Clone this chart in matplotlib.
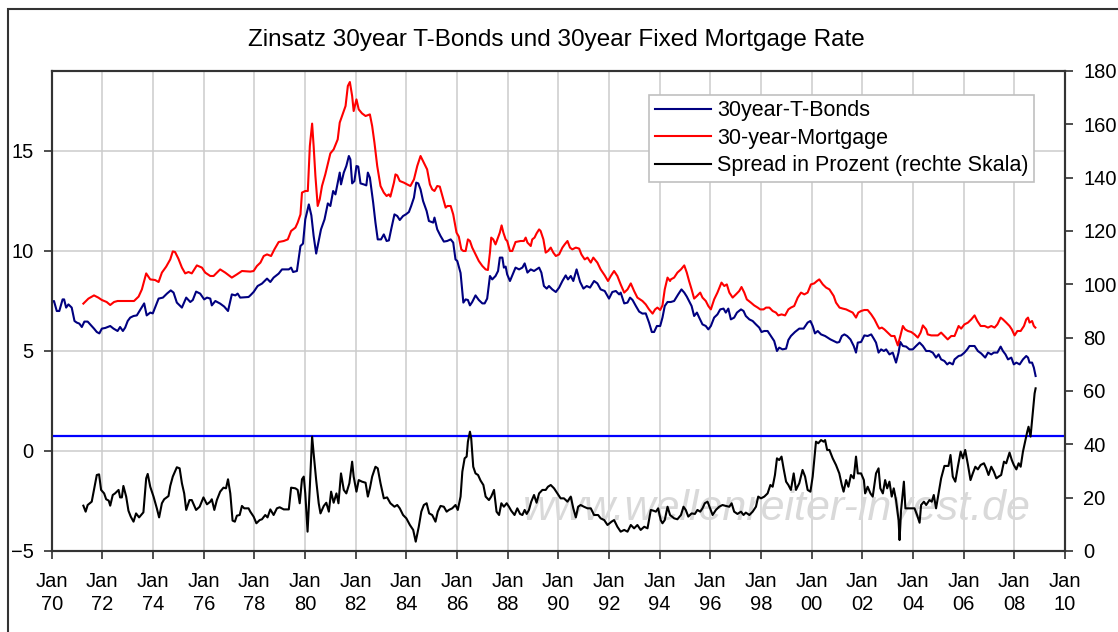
import matplotlib
matplotlib.use('Agg')
import matplotlib.pyplot as plt
from matplotlib.patches import Rectangle
from matplotlib.lines import Line2D

plt.rcParams['font.family'] = ['Liberation Sans', 'DejaVu Sans']

TickSize = 14.5
LegendSize = 15.5
TitleSize = 17.5
line_w = 1.5

title = 'Zinsatz 30year T-Bonds und 30year Fixed Mortgage Rate'
labels = ['30year-T-Bonds', '30-year-Mortgage', 'Spread in Prozent (rechte Skala)']
watermark = 'www.wellenreiter-invest.de'

# 30year T-Bonds (left scale), decimal years
tb_year = [1970.0, 1970.09, 1970.2, 1970.3, 1970.43, 1970.49, 1970.57, 1970.66, 1970.79, 1970.9,
           1970.99, 1971.09, 1971.19, 1971.29, 1971.42, 1971.58, 1971.67, 1971.78, 1971.88, 1971.98,
           1972.11, 1972.31, 1972.44, 1972.6, 1972.7, 1972.81, 1972.9, 1973.0, 1973.1, 1973.23,
           1973.36, 1973.49, 1973.65, 1973.75, 1973.89, 1973.99, 1974.08, 1974.22, 1974.39, 1974.55,
           1974.7, 1974.81, 1974.94, 1975.14, 1975.31, 1975.47, 1975.57, 1975.7, 1975.86, 1976.02,
           1976.13, 1976.26, 1976.32, 1976.46, 1976.65, 1976.81, 1976.96, 1977.11, 1977.25, 1977.34,
           1977.44, 1977.77, 1977.84, 1977.97, 1978.13, 1978.3, 1978.5, 1978.63, 1978.76, 1978.96,
           1979.09, 1979.36, 1979.45, 1979.53, 1979.68, 1979.82, 1979.92, 1980.01, 1980.15, 1980.25,
           1980.34, 1980.44, 1980.54, 1980.63, 1980.77, 1980.9, 1981.0, 1981.11, 1981.2, 1981.29,
           1981.37, 1981.42, 1981.53, 1981.63, 1981.73, 1981.79, 1981.86, 1981.95, 1982.03, 1982.1,
           1982.19, 1982.32, 1982.42, 1982.48, 1982.56, 1982.69, 1982.78, 1982.87, 1983.0, 1983.11,
           1983.22, 1983.31, 1983.4, 1983.53, 1983.64, 1983.74, 1983.87, 1983.98, 1984.1, 1984.19,
           1984.3, 1984.39, 1984.47, 1984.56, 1984.66, 1984.8, 1984.89, 1985.06, 1985.11, 1985.22,
           1985.35, 1985.48, 1985.61, 1985.75, 1985.85, 1985.94, 1986.01, 1986.14, 1986.25, 1986.34,
           1986.43, 1986.51, 1986.6, 1986.73, 1986.86, 1987.0, 1987.09, 1987.19, 1987.3, 1987.39,
           1987.52, 1987.62, 1987.69, 1987.79, 1987.85, 1987.92, 1987.98, 1988.09, 1988.18, 1988.31,
           1988.45, 1988.58, 1988.67, 1988.78, 1988.91, 1989.04, 1989.24, 1989.33, 1989.43, 1989.54,
           1989.63, 1989.76, 1989.9, 1990.03, 1990.16, 1990.29, 1990.38, 1990.49, 1990.59, 1990.72,
           1990.86, 1990.99, 1991.12, 1991.25, 1991.41, 1991.54, 1991.67, 1991.83, 1992.0, 1992.13,
           1992.27, 1992.4, 1992.46, 1992.6, 1992.73, 1992.83, 1992.93, 1993.06, 1993.19, 1993.32,
           1993.45, 1993.58, 1993.69, 1993.78, 1993.89, 1994.02, 1994.11, 1994.2, 1994.31, 1994.44,
           1994.57, 1994.73, 1994.86, 1994.97, 1995.07, 1995.16, 1995.26, 1995.36, 1995.47, 1995.56,
           1995.69, 1995.82, 1995.92, 1996.02, 1996.15, 1996.28, 1996.39, 1996.52, 1996.61, 1996.71,
           1996.81, 1996.94, 1997.05, 1997.21, 1997.31, 1997.4, 1997.54, 1997.67, 1997.8, 1997.93,
           1998.02, 1998.13, 1998.26, 1998.39, 1998.52, 1998.63, 1998.72, 1998.85, 1998.99, 1999.08,
           1999.18, 1999.34, 1999.51, 1999.68, 1999.84, 1999.95, 2000.04, 2000.13, 2000.24, 2000.37,
           2000.53, 2000.63, 2000.74, 2000.87, 2001.0, 2001.09, 2001.19, 2001.29, 2001.4, 2001.53,
           2001.66, 2001.75, 2001.82, 2001.95, 2002.08, 2002.21, 2002.35, 2002.45, 2002.54, 2002.64,
           2002.74, 2002.85, 2002.94, 2003.07, 2003.2, 2003.33, 2003.43, 2003.5, 2003.6, 2003.73,
           2003.86, 2003.99, 2004.12, 2004.26, 2004.39, 2004.52, 2004.65, 2004.78, 2004.91, 2005.01,
           2005.11, 2005.24, 2005.35, 2005.44, 2005.57, 2005.64, 2005.8, 2005.9, 2006.03, 2006.14,
           2006.23, 2006.43, 2006.56, 2006.69, 2006.85, 2006.96, 2007.09, 2007.19, 2007.33, 2007.46,
           2007.55, 2007.65, 2007.75, 2007.88, 2007.98, 2008.08, 2008.21, 2008.34, 2008.47, 2008.54,
           2008.6, 2008.7, 2008.77, 2008.84]
tb_val = [7.45, 7.5, 7.0, 7.0, 7.58, 7.58, 7.17, 7.33, 7.17, 6.5,
          6.42, 6.37, 6.2, 6.47, 6.47, 6.25, 6.12, 5.95, 5.88, 6.12,
          6.15, 6.25, 6.12, 6.0, 6.2, 6.0, 6.17, 6.5, 6.67, 6.75,
          6.78, 7.05, 7.38, 6.78, 6.92, 6.88, 7.17, 7.62, 7.67, 7.87,
          8.03, 7.92, 7.42, 7.17, 7.67, 7.45, 7.55, 7.97, 7.87, 7.58,
          7.67, 7.62, 7.28, 7.5, 7.37, 7.22, 7.0, 7.83, 7.78, 7.87,
          7.67, 7.7, 7.78, 7.95, 8.25, 8.37, 8.62, 8.45, 8.67, 8.87,
          9.08, 9.08, 9.17, 8.95, 9.0, 10.25, 10.37, 11.58, 12.33, 11.78,
          10.75, 9.87, 10.5, 11.08, 11.58, 12.38, 12.25, 13.0, 12.83, 13.42,
          13.92, 13.33, 13.92, 14.25, 14.75, 14.58, 13.38, 13.5, 14.25, 14.22,
          13.38, 13.33, 13.28, 13.92, 13.67, 12.42, 11.42, 10.58, 10.58, 10.83,
          10.5, 10.53, 11.08, 11.83, 11.75, 11.55, 11.75, 11.83, 11.95, 12.25,
          12.67, 13.42, 13.38, 13.08, 12.5, 12.0, 11.5, 11.42, 11.67, 11.08,
          10.75, 10.47, 10.5, 10.58, 10.42, 9.58, 9.5, 8.9, 7.42, 7.58,
          7.55, 7.28, 7.45, 7.78, 7.55, 7.38, 7.38, 7.62, 8.75, 8.58,
          8.75, 9.0, 9.67, 9.67, 9.17, 9.22, 8.83, 8.5, 8.78, 9.17,
          9.08, 9.17, 9.38, 8.92, 9.08, 9.0, 9.17, 8.92, 8.25, 8.12,
          8.25, 8.08, 7.95, 8.17, 8.5, 8.78, 8.58, 8.75, 8.5, 9.08,
          8.45, 8.12, 8.25, 8.17, 8.5, 8.38, 8.08, 8.0, 7.62, 7.95,
          8.0, 7.83, 7.92, 7.38, 7.42, 7.67, 7.55, 7.25, 6.97, 6.87,
          6.88, 6.42, 5.95, 5.95, 6.25, 6.25, 6.67, 7.25, 7.45, 7.45,
          7.5, 7.83, 8.08, 7.92, 7.72, 7.5, 7.25, 6.75, 6.92, 6.67,
          6.33, 6.25, 6.08, 6.25, 6.67, 6.83, 7.08, 7.12, 6.92, 7.12,
          6.58, 6.67, 6.92, 7.08, 7.0, 6.75, 6.58, 6.5, 6.33, 6.17,
          5.95, 6.0, 6.0, 5.75, 5.5, 5.0, 5.17, 5.08, 5.12, 5.55,
          5.75, 5.95, 6.12, 6.12, 6.42, 6.5, 6.25, 5.88, 6.0, 5.83,
          5.75, 5.67, 5.58, 5.5, 5.42, 5.45, 5.75, 5.83, 5.75, 5.58,
          5.25, 4.92, 5.42, 5.45, 5.78, 5.75, 5.83, 5.62, 5.42, 4.92,
          5.08, 5.0, 5.08, 4.83, 4.92, 4.42, 4.92, 5.45, 5.25, 5.22,
          5.08, 5.08, 5.25, 5.42, 5.25, 5.0, 5.0, 4.92, 4.67, 4.83,
          4.58, 4.5, 4.33, 4.42, 4.33, 4.58, 4.75, 4.78, 4.92, 5.08,
          5.25, 5.25, 5.0, 4.88, 4.67, 4.92, 4.83, 4.92, 4.92, 5.22,
          5.0, 4.83, 4.58, 4.67, 4.33, 4.42, 4.33, 4.58, 4.75, 4.67,
          4.42, 4.42, 4.17, 3.75]

# 30-year Mortgage (left scale)
mg_year = [1971.25, 1971.45, 1971.67, 1971.84, 1971.98, 1972.17, 1972.31, 1972.46, 1972.6, 1972.96,
           1973.25, 1973.43, 1973.56, 1973.73, 1973.89, 1974.08, 1974.22, 1974.35, 1974.52, 1974.68,
           1974.78, 1974.87, 1975.0, 1975.14, 1975.27, 1975.4, 1975.53, 1975.73, 1975.93, 1976.06,
           1976.26, 1976.39, 1976.65, 1976.85, 1977.11, 1977.31, 1977.51, 1977.84, 1977.97, 1978.1,
           1978.24, 1978.37, 1978.5, 1978.66, 1978.79, 1978.96, 1979.16, 1979.32, 1979.45, 1979.62,
           1979.71, 1979.82, 1979.88, 1980.01, 1980.11, 1980.19, 1980.28, 1980.34, 1980.41, 1980.5,
           1980.58, 1980.67, 1980.8, 1980.94, 1981.0, 1981.13, 1981.29, 1981.37, 1981.5, 1981.6,
           1981.69, 1981.77, 1981.86, 1981.92, 1982.03, 1982.12, 1982.25, 1982.39, 1982.56, 1982.65,
           1982.74, 1982.85, 1982.98, 1983.11, 1983.22, 1983.31, 1983.37, 1983.51, 1983.57, 1983.64,
           1983.74, 1983.9, 1984.03, 1984.16, 1984.3, 1984.43, 1984.56, 1984.69, 1984.82, 1984.93,
           1985.02, 1985.11, 1985.22, 1985.32, 1985.46, 1985.55, 1985.62, 1985.75, 1985.85, 1985.98,
           1986.07, 1986.17, 1986.25, 1986.34, 1986.43, 1986.51, 1986.6, 1986.73, 1986.86, 1987.0,
           1987.13, 1987.22, 1987.3, 1987.35, 1987.43, 1987.52, 1987.62, 1987.69, 1987.76, 1987.83,
           1987.92, 1987.98, 1988.09, 1988.18, 1988.31, 1988.51, 1988.64, 1988.71, 1988.78, 1988.91,
           1988.97, 1989.06, 1989.14, 1989.24, 1989.3, 1989.41, 1989.5, 1989.59, 1989.7, 1989.8,
           1989.9, 1990.03, 1990.16, 1990.25, 1990.36, 1990.46, 1990.55, 1990.69, 1990.82, 1990.91,
           1991.04, 1991.15, 1991.28, 1991.38, 1991.54, 1991.67, 1991.83, 1991.96, 1992.07, 1992.2,
           1992.33, 1992.46, 1992.6, 1992.73, 1992.86, 1992.99, 1993.12, 1993.32, 1993.45, 1993.58,
           1993.72, 1993.82, 1993.91, 1994.02, 1994.11, 1994.2, 1994.31, 1994.41, 1994.44, 1994.57,
           1994.7, 1994.84, 1994.97, 1995.07, 1995.16, 1995.26, 1995.36, 1995.47, 1995.6, 1995.69,
           1995.82, 1995.92, 1996.02, 1996.15, 1996.28, 1996.44, 1996.55, 1996.65, 1996.75, 1996.88,
           1997.01, 1997.14, 1997.23, 1997.34, 1997.44, 1997.6, 1997.73, 1997.87, 1997.97, 1998.1,
           1998.2, 1998.33, 1998.46, 1998.59, 1998.68, 1998.81, 1998.95, 1999.08, 1999.18, 1999.31,
           1999.45, 1999.58, 1999.71, 1999.84, 1999.97, 2000.1, 2000.21, 2000.3, 2000.44, 2000.57,
           2000.7, 2000.87, 2000.96, 2001.1, 2001.23, 2001.36, 2001.49, 2001.62, 2001.75, 2001.84,
           2001.95, 2002.08, 2002.21, 2002.35, 2002.48, 2002.61, 2002.67, 2002.77, 2002.87, 2003.0,
           2003.14, 2003.27, 2003.4, 2003.5, 2003.6, 2003.69, 2003.8, 2003.93, 2004.06, 2004.19,
           2004.3, 2004.39, 2004.52, 2004.58, 2004.72, 2004.85, 2004.98, 2005.11, 2005.24, 2005.37,
           2005.51, 2005.64, 2005.8, 2005.9, 2006.03, 2006.17, 2006.3, 2006.43, 2006.54, 2006.67,
           2006.83, 2006.96, 2007.09, 2007.22, 2007.33, 2007.46, 2007.55, 2007.68, 2007.81, 2007.9,
           2008.01, 2008.12, 2008.25, 2008.38, 2008.47, 2008.54, 2008.6, 2008.7, 2008.77, 2008.83]
mg_val = [7.37, 7.62, 7.78, 7.67, 7.55, 7.45, 7.3, 7.45, 7.5, 7.5,
          7.5, 7.72, 8.08, 8.88, 8.58, 8.55, 8.45, 8.92, 9.22, 9.58,
          9.98, 9.95, 9.62, 9.17, 8.88, 8.95, 8.88, 9.28, 9.17, 8.92,
          8.75, 8.75, 9.08, 8.92, 8.67, 8.83, 9.0, 8.97, 9.0, 9.25,
          9.42, 9.75, 9.83, 9.75, 10.08, 10.45, 10.5, 10.58, 11.0, 11.17,
          11.42, 11.83, 12.92, 13.0, 13.0, 15.25, 16.37, 15.25, 13.75, 12.25,
          12.58, 13.25, 13.83, 14.58, 14.88, 15.08, 15.58, 16.42, 16.88, 17.25,
          18.25, 18.45, 17.75, 17.0, 17.58, 17.08, 16.88, 16.75, 16.83, 16.25,
          15.42, 14.25, 13.25, 12.92, 12.75, 12.83, 12.72, 13.42, 13.83, 13.78,
          13.5, 13.42, 13.33, 13.25, 13.58, 14.25, 14.75, 14.42, 14.08, 13.33,
          13.08, 13.0, 13.25, 13.22, 12.58, 12.17, 12.25, 12.25, 11.83, 10.92,
          10.72, 10.08, 10.0, 10.0, 10.58, 10.5, 10.17, 9.83, 9.5, 9.25,
          9.08, 9.05, 9.92, 10.67, 10.58, 10.33, 10.67, 10.92, 11.28, 10.92,
          10.58, 10.5, 10.0, 10.0, 10.45, 10.5, 10.5, 10.67, 10.42, 10.25,
          10.58, 10.67, 10.88, 11.08, 11.0, 10.58, 9.92, 10.0, 10.17, 9.92,
          9.75, 9.83, 10.17, 10.33, 10.5, 10.17, 10.08, 10.17, 10.12, 9.83,
          9.58, 9.67, 9.42, 9.67, 9.42, 9.08, 8.78, 8.5, 8.75, 9.0,
          8.75, 8.33, 7.92, 8.08, 8.38, 8.0, 7.67, 7.5, 7.33, 7.08,
          6.87, 7.08, 7.17, 7.05, 7.28, 8.08, 8.67, 8.5, 8.58, 8.67,
          8.92, 9.08, 9.28, 8.92, 8.5, 8.08, 7.62, 7.75, 7.92, 7.67,
          7.5, 7.25, 7.08, 7.58, 7.92, 8.42, 8.25, 8.33, 7.92, 7.67,
          7.83, 8.0, 8.2, 7.92, 7.58, 7.42, 7.28, 7.17, 7.08, 7.08,
          7.17, 7.17, 7.0, 6.92, 6.78, 6.83, 6.78, 7.08, 7.17, 7.25,
          7.67, 7.92, 7.83, 7.92, 8.33, 8.38, 8.5, 8.58, 8.33, 8.17,
          8.08, 7.75, 7.42, 7.17, 7.12, 7.08, 7.0, 6.92, 6.67, 6.92,
          7.0, 7.05, 7.05, 6.83, 6.58, 6.25, 6.12, 6.17, 6.08, 5.92,
          5.75, 5.75, 5.28, 5.75, 6.25, 6.08, 6.0, 5.95, 5.83, 5.67,
          5.92, 6.28, 6.08, 5.83, 5.78, 5.78, 5.78, 5.92, 5.75, 5.58,
          5.75, 5.75, 6.25, 6.12, 6.33, 6.42, 6.58, 6.78, 6.5, 6.25,
          6.25, 6.17, 6.25, 6.17, 6.33, 6.67, 6.58, 6.42, 6.25, 6.08,
          5.78, 6.0, 6.0, 6.25, 6.58, 6.67, 6.42, 6.5, 6.25, 6.17]

# Spread in Prozent (right scale)
sp_year = [1971.25, 1971.34, 1971.42, 1971.58, 1971.69, 1971.78, 1971.87, 1971.95, 1972.07, 1972.15,
           1972.25, 1972.31, 1972.41, 1972.5, 1972.64, 1972.7, 1972.77, 1972.83, 1972.94, 1973.03,
           1973.12, 1973.23, 1973.33, 1973.45, 1973.62, 1973.73, 1973.79, 1973.89, 1974.02, 1974.15,
           1974.24, 1974.35, 1974.44, 1974.61, 1974.68, 1974.78, 1974.94, 1975.05, 1975.14, 1975.23,
           1975.31, 1975.44, 1975.53, 1975.7, 1975.84, 1975.99, 1976.13, 1976.26, 1976.32, 1976.42,
           1976.52, 1976.65, 1976.78, 1976.88, 1976.96, 1977.05, 1977.14, 1977.23, 1977.31, 1977.42,
           1977.51, 1977.6, 1977.77, 1977.84, 1977.97, 1978.08, 1978.21, 1978.3, 1978.43, 1978.52,
           1978.63, 1978.76, 1978.89, 1979.0, 1979.16, 1979.36, 1979.45, 1979.62, 1979.71, 1979.79,
           1979.88, 1979.95, 1980.01, 1980.1, 1980.19, 1980.28, 1980.34, 1980.44, 1980.54, 1980.61,
           1980.74, 1980.84, 1980.94, 1981.03, 1981.13, 1981.24, 1981.32, 1981.42, 1981.53, 1981.63,
           1981.75, 1981.86, 1981.92, 1982.03, 1982.12, 1982.25, 1982.39, 1982.48, 1982.56, 1982.65,
           1982.78, 1982.87, 1982.98, 1983.11, 1983.24, 1983.37, 1983.53, 1983.64, 1983.74, 1983.87,
           1984.0, 1984.14, 1984.27, 1984.37, 1984.49, 1984.59, 1984.69, 1984.8, 1984.9, 1985.02,
           1985.15, 1985.24, 1985.35, 1985.48, 1985.59, 1985.68, 1985.81, 1985.94, 1986.03, 1986.14,
           1986.21, 1986.3, 1986.38, 1986.43, 1986.51, 1986.56, 1986.64, 1986.73, 1986.83, 1986.93,
           1987.04, 1987.13, 1987.26, 1987.35, 1987.46, 1987.56, 1987.66, 1987.75, 1987.85, 1987.96,
           1988.05, 1988.14, 1988.27, 1988.38, 1988.49, 1988.58, 1988.67, 1988.75, 1988.84, 1988.93,
           1989.04, 1989.14, 1989.24, 1989.37, 1989.5, 1989.59, 1989.7, 1989.83, 1989.96, 1990.09,
           1990.22, 1990.36, 1990.49, 1990.59, 1990.69, 1990.78, 1990.88, 1991.01, 1991.15, 1991.28,
           1991.41, 1991.57, 1991.67, 1991.81, 1991.94, 1992.1, 1992.2, 1992.33, 1992.46, 1992.6,
           1992.73, 1992.86, 1992.99, 1993.12, 1993.25, 1993.39, 1993.52, 1993.65, 1993.76, 1993.85,
           1993.94, 1994.04, 1994.11, 1994.2, 1994.31, 1994.41, 1994.57, 1994.7, 1994.84, 1994.94,
           1995.03, 1995.13, 1995.26, 1995.39, 1995.49, 1995.6, 1995.69, 1995.78, 1995.89, 1995.99,
           1996.09, 1996.22, 1996.35, 1996.48, 1996.61, 1996.75, 1996.84, 1996.94, 1997.07, 1997.21,
           1997.31, 1997.4, 1997.54, 1997.67, 1997.8, 1997.89, 1998.0, 1998.13, 1998.26, 1998.37,
           1998.46, 1998.55, 1998.63, 1998.72, 1998.81, 1998.89, 1998.99, 1999.08, 1999.18, 1999.29,
           1999.38, 1999.51, 1999.64, 1999.74, 1999.84, 1999.95, 2000.04, 2000.11, 2000.17, 2000.26,
           2000.37, 2000.47, 2000.53, 2000.61, 2000.7, 2000.83, 2000.96, 2001.09, 2001.19, 2001.26,
           2001.36, 2001.45, 2001.55, 2001.66, 2001.75, 2001.82, 2001.95, 2002.06, 2002.11, 2002.21,
           2002.32, 2002.41, 2002.54, 2002.64, 2002.71, 2002.81, 2002.9, 2002.98, 2003.07, 2003.16,
           2003.24, 2003.33, 2003.43, 2003.47, 2003.53, 2003.64, 2003.7, 2003.8, 2003.93, 2004.06,
           2004.16, 2004.26, 2004.32, 2004.43, 2004.52, 2004.65, 2004.74, 2004.82, 2004.91, 2005.01,
           2005.11, 2005.24, 2005.4, 2005.48, 2005.57, 2005.67, 2005.77, 2005.88, 2005.97, 2006.06,
           2006.17, 2006.27, 2006.36, 2006.46, 2006.56, 2006.67, 2006.8, 2006.89, 2006.98, 2007.09,
           2007.19, 2007.29, 2007.38, 2007.48, 2007.59, 2007.68, 2007.81, 2007.9, 2007.98, 2008.08,
           2008.17, 2008.25, 2008.34, 2008.41, 2008.51, 2008.56, 2008.64, 2008.74, 2008.8, 2008.84]
sp_val = [17.0, 14.75, 17.25, 18.5, 24.1, 28.5, 28.75, 22.9, 21.6, 19.4,
          18.9, 17.0, 21.0, 21.6, 22.9, 20.1, 20.1, 24.4, 20.4, 15.1,
          12.9, 11.0, 14.1, 12.6, 14.5, 27.25, 28.9, 24.1, 20.4, 16.0,
          12.6, 17.9, 19.4, 20.6, 24.4, 27.9, 31.4, 31.0, 25.4, 21.6,
          15.4, 19.1, 19.1, 15.4, 16.6, 20.1, 17.5, 18.5, 19.4, 15.4,
          19.1, 22.25, 23.75, 23.5, 26.9, 21.6, 11.4, 11.0, 13.25, 13.5,
          16.9, 16.0, 16.0, 14.75, 12.9, 10.4, 11.6, 11.9, 13.5, 12.6,
          15.6, 13.5, 16.0, 16.4, 15.6, 15.6, 23.75, 23.5, 22.9, 17.9,
          26.9, 27.9, 21.6, 7.25, 24.1, 42.9, 36.6, 26.6, 17.9, 14.1,
          16.9, 18.1, 14.75, 22.25, 18.1, 21.6, 17.9, 29.1, 22.9, 21.6,
          25.4, 33.5, 27.9, 22.25, 26.6, 26.0, 25.6, 20.4, 23.5, 27.9,
          31.6, 31.0, 25.4, 19.75, 20.1, 17.9, 16.6, 17.25, 16.0, 13.5,
          12.25, 9.75, 7.9, 3.5, 9.1, 14.75, 17.25, 17.9, 14.1, 13.5,
          11.0, 14.75, 16.9, 16.6, 14.75, 15.4, 16.0, 17.25, 15.4, 20.4,
          29.75, 34.75, 35.4, 41.0, 44.75, 42.25, 31.6, 29.1, 28.5, 26.4,
          24.75, 20.4, 19.1, 20.4, 22.9, 14.75, 13.5, 17.9, 16.6, 17.9,
          16.6, 15.1, 13.5, 16.0, 13.9, 13.5, 15.4, 13.9, 15.4, 18.5,
          21.0, 18.1, 21.6, 22.9, 22.9, 24.1, 24.75, 23.5, 21.6, 19.75,
          19.75, 18.5, 20.4, 16.0, 12.6, 16.6, 17.25, 16.6, 16.0, 16.0,
          13.5, 13.5, 12.25, 11.6, 9.75, 11.0, 11.6, 9.1, 7.25, 7.9,
          7.25, 9.75, 8.5, 9.75, 7.9, 9.1, 8.5, 15.4, 15.1, 14.75,
          16.0, 11.6, 10.4, 11.6, 16.6, 13.5, 12.25, 11.9, 13.5, 16.6,
          15.4, 12.9, 14.1, 13.9, 15.4, 14.75, 16.0, 17.9, 18.5, 16.0,
          13.5, 15.4, 16.6, 17.25, 16.9, 16.6, 17.9, 14.75, 13.9, 14.75,
          13.5, 14.4, 13.5, 14.75, 16.6, 20.4, 19.75, 20.4, 21.6, 24.75,
          24.1, 28.5, 34.75, 34.1, 35.4, 31.0, 26.0, 24.75, 22.9, 29.1,
          22.9, 25.4, 30.4, 27.9, 22.9, 22.25, 27.9, 34.75, 41.0, 40.4,
          41.6, 41.0, 41.6, 37.9, 37.9, 34.75, 32.25, 29.1, 24.75, 22.25,
          26.6, 24.1, 28.5, 27.25, 35.4, 29.1, 29.1, 26.6, 21.6, 24.1,
          21.6, 20.4, 29.1, 31.0, 23.5, 21.6, 26.6, 23.5, 26.0, 20.4,
          23.5, 19.1, 11.6, 4.1, 15.4, 26.0, 16.0, 16.0, 16.0, 16.0,
          13.5, 10.6, 17.25, 18.5, 17.25, 19.1, 18.5, 21.0, 16.0, 21.6,
          27.25, 31.9, 31.9, 36.0, 27.9, 26.0, 31.6, 37.25, 34.75, 37.9,
          32.25, 26.6, 29.1, 31.6, 30.6, 32.25, 32.9, 31.0, 28.5, 31.6,
          29.75, 27.25, 27.9, 28.5, 33.5, 32.9, 36.9, 34.1, 32.25, 30.6,
          32.9, 31.6, 37.25, 40.4, 44.75, 46.6, 42.9, 52.9, 59.1, 61.0]

spread_mark = 43  # blue reference line, right scale

x_ticks = list(range(1970, 2011, 2))
x_labels = ['Jan\n%02d' % (y % 100) for y in x_ticks]
left_ticks = [-5, 0, 5, 10, 15]
right_ticks = list(range(0, 181, 20))

W, H = 1118, 632
fig = plt.figure(figsize=(W / 100, H / 100), dpi=100)
ax = fig.add_axes([51.7 / W, 1 - 551 / H, (1065 - 51.7) / W, (551 - 71) / H])

ax.plot(tb_year, tb_val, color='#000080', linewidth=line_w, zorder=3)
ax.plot(mg_year, mg_val, color='#ff0000', linewidth=line_w, zorder=3)
ax.set_xlim(1970, 2010)
ax.set_ylim(-5, 19)
ax.set_yticks(left_ticks)
ax.set_xticks(x_ticks)
ax.set_xticklabels(x_labels, linespacing=1.3)
ax.set_axisbelow(True)
ax.grid(True, color='#cccccc', linewidth=1.1)
ax.tick_params(axis='both', direction='out', length=6, width=1.3, colors='#404040',
               labelcolor='black', labelsize=TickSize)
ax.tick_params(axis='x', pad=9)
ax.tick_params(axis='y', pad=7)
for sp in ax.spines.values():
    sp.set_color('#333333')
    sp.set_linewidth(1.5)

ax.text(0.716, 0.088, watermark, transform=ax.transAxes, ha='center', va='center',
        fontsize=31, style='italic', color='#d9d9d9', zorder=1)

ax2 = ax.twinx()
ax2.plot(sp_year, sp_val, color='black', linewidth=line_w, zorder=3)
ax2.axhline(spread_mark, color='#0000ff', linewidth=1.6, zorder=2)
ax2.set_ylim(0, 180)
ax2.set_yticks(right_ticks)
ax2.tick_params(axis='y', direction='out', length=6, width=1.3, colors='#404040',
                labelcolor='black', labelsize=TickSize, pad=7)
for sp in ax2.spines.values():
    sp.set_color('#333333')
    sp.set_linewidth(1.5)

handles = [Line2D([], [], color='#000080', linewidth=line_w),
           Line2D([], [], color='#ff0000', linewidth=line_w),
           Line2D([], [], color='black', linewidth=line_w)]
leg = ax2.legend(handles, labels, loc='upper left', bbox_to_anchor=(649.5 / W, 1 - 95 / H),
                 bbox_transform=fig.transFigure, fontsize=LegendSize, fancybox=False,
                 framealpha=1, edgecolor='#c0c0c0', borderaxespad=0, borderpad=0.25,
                 handlelength=2.6, handletextpad=0.3, labelspacing=0.3)
leg.get_frame().set_linewidth(1.2)

fig.text(556 / W, 1 - 40 / H, title, ha='center', va='center', fontsize=TitleSize)

fig.add_artist(Rectangle((8.3 / W, -0.1), 1.2, 0.1 + 1 - 9.3 / H, transform=fig.transFigure,
                         fill=False, edgecolor='#333333', linewidth=1.5))

fig.savefig('out.png', dpi=100)
